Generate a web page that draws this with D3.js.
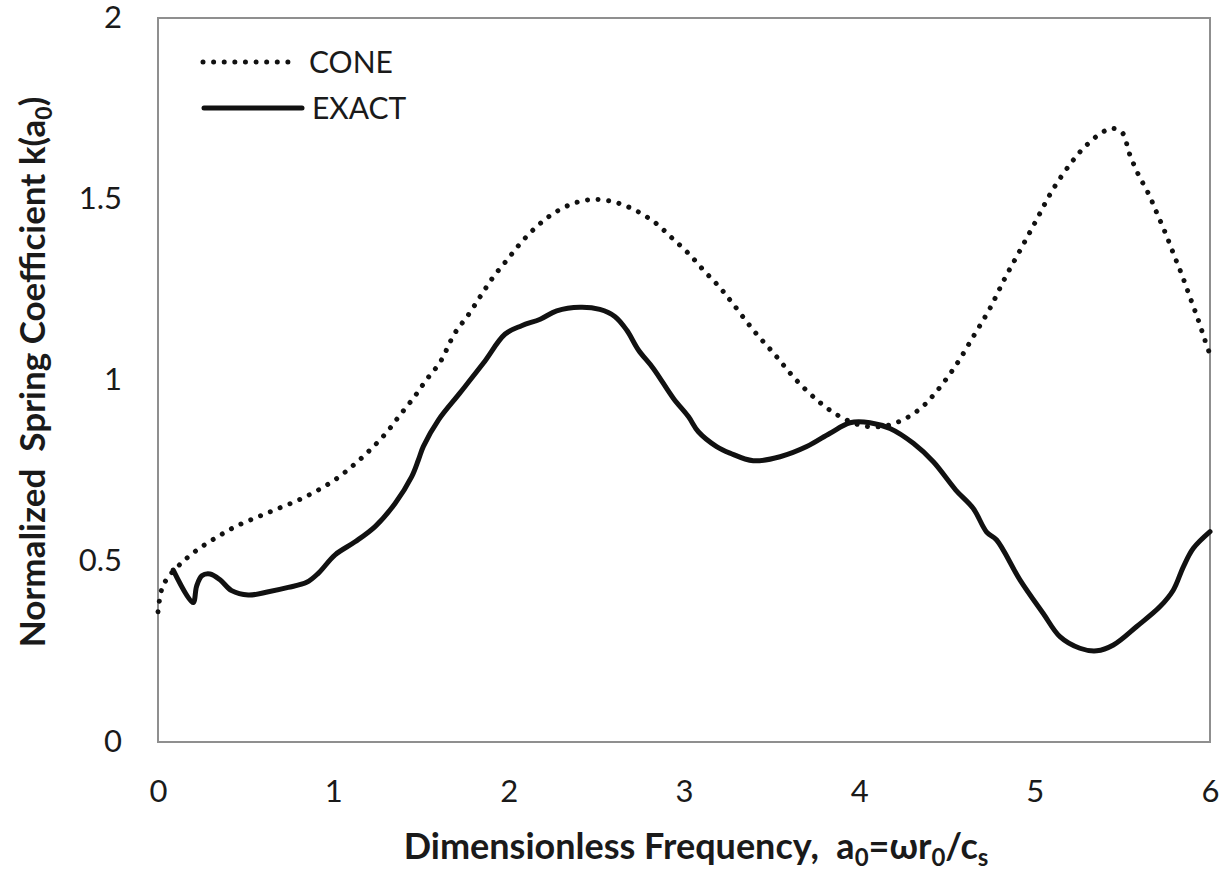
<!DOCTYPE html>
<html>
<head>
<meta charset="utf-8">
<title>Normalized Spring Coefficient</title>
<style>
  body { margin: 0; background: #fff; }
  text { font-family: Lato, "Open Sans", sans-serif; fill: #1a1a1a; }
</style>
</head>
<body>
<div id="chart"></div>
<script src="https://d3js.org/d3.v7.min.js"></script>
<script>
// values
var coneA = [0, 0.02, 0.05, 0.13, 0.23, 0.34, 0.45, 0.57, 0.68, 0.80, 0.91, 1.02, 1.12, 1.21, 1.30, 1.38, 1.46, 1.53,
    1.61, 1.69, 1.77, 1.84, 1.91, 1.99, 2.07, 2.16, 2.255, 2.37, 2.49, 2.615, 2.73, 2.84, 2.93, 3.025, 3.11, 3.2,
    3.28, 3.395, 3.52, 3.64, 3.78, 3.89, 4.0, 4.12, 4.24, 4.35, 4.44, 4.55, 4.65, 4.745, 4.83, 4.92, 5.01, 5.10,
    5.205, 5.29, 5.385, 5.443, 5.50, 5.54, 5.59, 5.65, 5.70, 5.75, 5.795, 5.84, 5.885, 5.93, 5.97, 6.0]
var coneK = [0.36, 0.42, 0.45, 0.493, 0.533, 0.567, 0.597, 0.622, 0.644, 0.668, 0.695, 0.728, 0.767, 0.807, 0.853, 0.903, 0.952, 1.0,
    1.05, 1.127, 1.18, 1.232, 1.283, 1.331, 1.379, 1.424, 1.46, 1.488, 1.499, 1.49, 1.467, 1.433, 1.393, 1.35, 1.304, 1.258,
    1.21, 1.138, 1.069, 1.0, 0.936, 0.899, 0.876, 0.871, 0.888, 0.922, 0.968, 1.04, 1.12, 1.198, 1.281, 1.361, 1.442, 1.523,
    1.598, 1.646, 1.684, 1.695, 1.683, 1.626, 1.569, 1.514, 1.458, 1.401, 1.345, 1.29, 1.23, 1.17, 1.112, 1.07]

var exactA = [0.087, 0.20, 0.22, 0.25, 0.297, 0.354, 0.42, 0.515, 0.63, 0.743, 0.848, 0.914, 1.01, 1.124, 1.238, 1.352,
    1.447, 1.485, 1.513, 1.6, 1.72, 1.855, 1.98, 2.074, 2.18, 2.274, 2.407, 2.52, 2.607, 2.673, 2.74, 2.825, 2.94,
    3.025, 3.082, 3.186, 3.262, 3.395, 3.548, 3.70, 3.833, 3.947, 4.061, 4.175, 4.308, 4.422, 4.55, 4.65, 4.726,
    4.783, 4.916, 5.049, 5.144, 5.258, 5.354, 5.449, 5.582, 5.715, 5.791, 5.848, 5.905, 6.0]
var exactK = [0.475, 0.385, 0.43, 0.459, 0.464, 0.448, 0.418, 0.406, 0.415, 0.427, 0.441, 0.466, 0.517, 0.553, 0.595, 0.659,
    0.733, 0.779, 0.816, 0.89, 0.963, 1.046, 1.127, 1.15, 1.168, 1.191, 1.201, 1.195, 1.175, 1.138, 1.083, 1.032, 0.949,
    0.899, 0.857, 0.816, 0.798, 0.777, 0.788, 0.816, 0.853, 0.882, 0.882, 0.866, 0.825, 0.774, 0.696, 0.645, 0.58,
    0.558, 0.448, 0.355, 0.291, 0.259, 0.252, 0.268, 0.319, 0.374, 0.42, 0.484, 0.535, 0.581]

var xTicks = [0, 1, 2, 3, 4, 5, 6]
var yTicks = [0, 0.5, 1, 1.5, 2]
var seriesNames = ["CONE", "EXACT"]

var width = 1229, height = 879
var margin = {top: 18, right: 19, bottom: 137, left: 158}

var svg = d3.select("#chart").append("svg")
    .attr("width", width)
    .attr("height", height)

var x = d3.scaleLinear().domain([0, 6]).range([margin.left, width - margin.right])
var y = d3.scaleLinear().domain([0, 2]).range([height - margin.bottom, margin.top])

// plot frame
svg.append("rect")
    .attr("x", x(0)).attr("y", y(2))
    .attr("width", x(6) - x(0)).attr("height", y(0) - y(2))
    .style("fill", "none")
    .style("stroke", "#8f8f8f")
    .style("stroke-width", 2)

// axes, labels only
var xAxis = svg.append("g")
    .attr("transform", "translate(0," + y(0) + ")")
    .call(d3.axisBottom(x).tickValues(xTicks).tickSize(0).tickPadding(38).tickFormat(d3.format("d")))
xAxis.select(".domain").remove()
xAxis.selectAll("text").style("font-size", "31px").style("font-family", "Lato, sans-serif").attr("fill", "#1a1a1a")

var yAxis = svg.append("g")
    .attr("transform", "translate(" + x(0) + ",0)")
    .call(d3.axisLeft(y).tickValues(yTicks).tickSize(0).tickPadding(36).tickFormat(function(d) { return String(d) }))
yAxis.select(".domain").remove()
yAxis.selectAll("text").style("font-size", "31px").style("font-family", "Lato, sans-serif").attr("fill", "#1a1a1a")

// lines
var line = d3.line()
    .x(function(d) { return x(d[0]) })
    .y(function(d) { return y(d[1]) })
    .curve(d3.curveCatmullRom.alpha(0.5))

var cone = coneA.map(function(a, i) { return [a, coneK[i]] })
var exact = exactA.map(function(a, i) { return [a, exactK[i]] })

svg.append("path")
    .datum(cone)
    .attr("d", line)
    .style("fill", "none")
    .style("stroke", "#111")
    .style("stroke-width", 5)
    .style("stroke-linecap", "round")
    .style("stroke-dasharray", "0.01 10.6")

svg.append("path")
    .datum(exact)
    .attr("d", line)
    .style("fill", "none")
    .style("stroke", "#111")
    .style("stroke-width", 5)
    .style("stroke-linejoin", "round")
    .style("stroke-linecap", "round")

// legend
var legend = svg.append("g")
legend.append("line")
    .attr("x1", 203).attr("x2", 295).attr("y1", 62).attr("y2", 62)
    .style("stroke", "#111").style("stroke-width", 5)
    .style("stroke-linecap", "round").style("stroke-dasharray", "0.01 10.6")
legend.append("line")
    .attr("x1", 204).attr("x2", 302).attr("y1", 108).attr("y2", 108)
    .style("stroke", "#111").style("stroke-width", 5).style("stroke-linecap", "round")
legend.selectAll("text.lab")
    .data(seriesNames)
    .enter().append("text")
    .attr("class", "lab")
    .attr("x", function(d, i) { return i == 0 ? 309 : 312 })
    .attr("y", function(d, i) { return 62 + i * 46 })
    .attr("dy", "0.35em")
    .style("font-size", "30px")
    .text(function(d) { return d })

// axis titles, subscripts shifted with dy
var xt = svg.append("text")
    .attr("x", 696).attr("y", 859)
    .attr("text-anchor", "middle")
    .style("white-space", "pre")
    .style("font-size", "36px").style("font-weight", "bold")
xt.append("tspan").text("Dimensionless Frequency,  a")
xt.append("tspan").attr("dy", 7).style("font-size", "24px").text("0")
xt.append("tspan").attr("dy", -7).text("=ωr")
xt.append("tspan").attr("dy", 7).style("font-size", "24px").text("0")
xt.append("tspan").attr("dy", -7).text("/c")
xt.append("tspan").attr("dy", 7).style("font-size", "24px").text("s")

var yt = svg.append("text")
    .attr("transform", "translate(45,372) rotate(-90)")
    .attr("text-anchor", "middle")
    .style("white-space", "pre")
    .style("font-size", "35px").style("font-weight", "bold")
yt.append("tspan").text("Normalized  Spring Coefficient k(a")
yt.append("tspan").attr("dy", 7).style("font-size", "23px").text("0")
yt.append("tspan").attr("dy", -7).text(")")
</script>
</body>
</html>
